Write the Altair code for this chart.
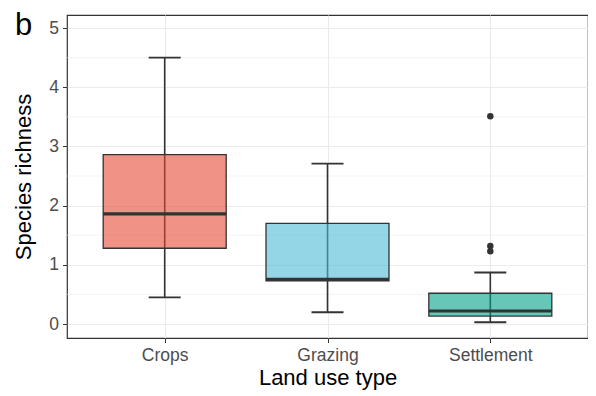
import altair as alt
import pandas as pd

categories = ["Crops", "Grazing", "Settlement"]
whisker_low = [0.45, 0.20, 0.03]
q1 = [1.28, 0.73, 0.135]
median = [1.86, 0.755, 0.22]
q3 = [2.86, 1.70, 0.52]
whisker_high = [4.50, 2.71, 0.87]
colors = ["#E64B35", "#4DBBD5", "#00A087"]

outlier_cat = ["Settlement", "Settlement", "Settlement"]
outlier_val = [3.51, 1.32, 1.23]

y_ticks = [0, 1, 2, 3, 4, 5]
minor_grid = [0.5, 1.5, 2.5, 3.5, 4.5]

box = pd.DataFrame({"cat": categories, "lo": whisker_low, "q1": q1, "med": median,
                    "q3": q3, "hi": whisker_high})
outl = pd.DataFrame({"cat": outlier_cat, "val": outlier_val})
grid = pd.DataFrame({"g": minor_grid})

ydom = [-0.236, 5.22]
xs = alt.Scale(type="point", domain=categories, padding=0.6)
ys = alt.Scale(domain=ydom, nice=False, zero=False)
cs = alt.Scale(domain=categories, range=colors)

xaxis = alt.Axis(title="Land use type", labelAngle=0, grid=True, labelPadding=4, titlePadding=3)
yaxis = alt.Axis(title="Species richness", values=y_ticks, grid=True, labelPadding=4, titlePadding=13)

X = alt.X("cat:N", scale=xs, sort=categories, axis=xaxis)


def Y(field):
    return alt.Y(field, scale=ys, axis=yaxis)


base = alt.Chart(box)

mgrid = alt.Chart(grid).mark_rule(color="#ebebeb", strokeWidth=0.6).encode(y=Y("g:Q"))

whisk = base.mark_rule(color="#333333", strokeWidth=1.6).encode(x=X, y=Y("lo:Q"), y2="hi:Q")

cap_lo = base.mark_tick(orient="horizontal", size=32, thickness=1.9, color="#333333", opacity=1).encode(
    x=X, y=Y("lo:Q"))
cap_hi = base.mark_tick(orient="horizontal", size=32, thickness=1.9, color="#333333", opacity=1).encode(
    x=X, y=Y("hi:Q"))

boxes = base.mark_bar(size=123, stroke="#333333", strokeWidth=1.3, fillOpacity=0.6,
                      strokeOpacity=1).encode(
    x=X, y=Y("q1:Q"), y2="q3:Q",
    fill=alt.Fill("cat:N", scale=cs, legend=None))

med = base.mark_tick(orient="horizontal", size=123, thickness=3.2, color="#333333", opacity=1).encode(
    x=X, y=Y("med:Q"))

pts = alt.Chart(outl).mark_circle(size=42, color="#333333", opacity=1).encode(
    x=alt.X("cat:N", scale=xs, axis=xaxis), y=Y("val:Q"))

label = alt.Chart(pd.DataFrame({"t": ["b"]})).mark_text(
    fontSize=31, font="Liberation Sans", align="left", baseline="alphabetic", color="#000000"
).encode(x=alt.value(-52), y=alt.value(20), text="t:N")

chart = alt.layer(mgrid, whisk, cap_lo, cap_hi, boxes, med, pts, label).properties(
    width=521, height=323,
    autosize=alt.AutoSizeParams(type="none"),
    padding={"left": 59, "top": 7, "right": 0, "bottom": 54},
).configure_view(stroke="#333333", strokeWidth=1.2).configure_axis(
    labelFont="Liberation Sans", titleFont="Liberation Sans",
    labelFontSize=17.5, labelColor="#4d4d4d", titleFontSize=22, titleColor="#000000",
    titleFontWeight="normal", tickColor="#333333", tickSize=4.5, domain=False,
    gridColor="#ebebeb", gridWidth=1.1,
)

chart.save("out.html", embed_options={"renderer": "svg", "actions": False})
